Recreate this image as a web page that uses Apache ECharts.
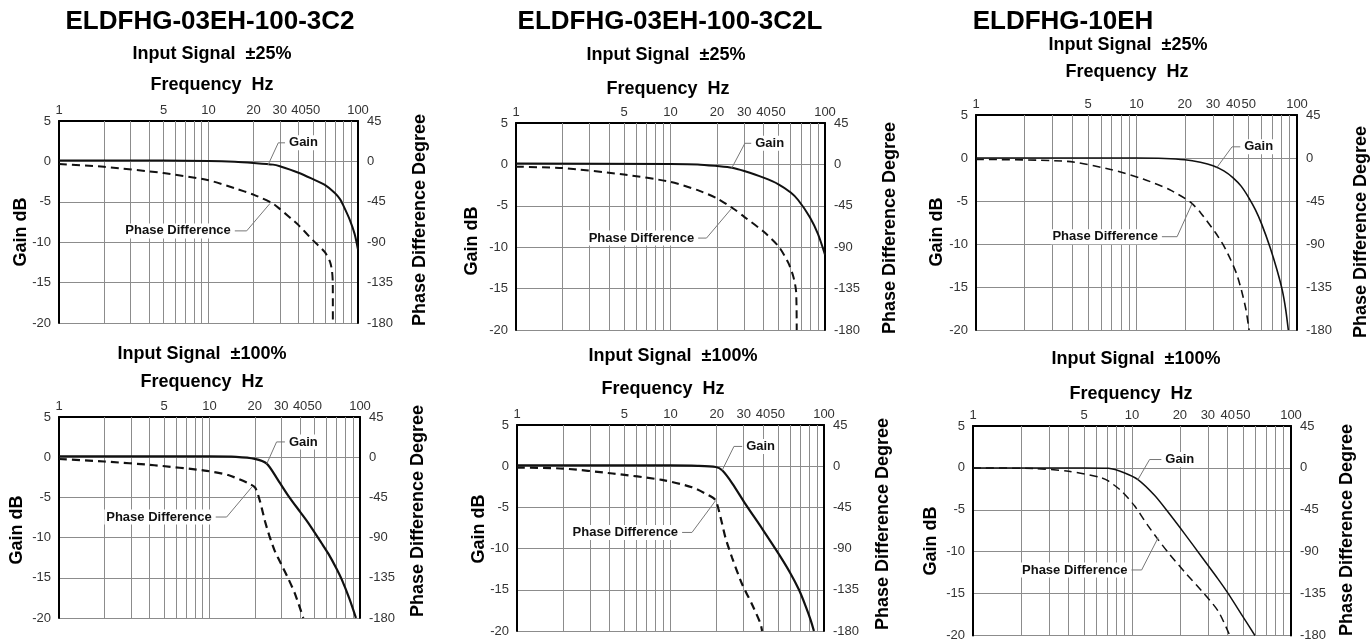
<!DOCTYPE html>
<html>
<head>
<meta charset="utf-8">
<script src="https://cdn.jsdelivr.net/npm/echarts@6/dist/echarts.min.js"></script>
<style>
html, body { margin: 0; padding: 0; background: #fff; }
#chart { width: 1371px; height: 642px; }
</style>
</head>
<body>
<div id="chart"></div>
<script>
// frequency grid lines and the labelled ones (Hz)
var gridHz = [1, 2, 3, 4, 5, 6, 7, 8, 9, 10, 20, 30, 40, 50, 60, 70, 80, 90, 100];
var labelHz = [1, 5, 10, 20, 30, 40, 50, 100];

// ELDFHG-03EH-100-3C2, input +-25%
var p1GainHz = [1, 5, 10, 15, 20, 27, 30, 40, 50, 60, 70, 76, 80, 88, 95, 100];
var p1GainDb = [0.1, 0.1, 0.05, -0.05, -0.2, -0.4, -0.6, -1.4, -2.2, -2.9, -3.9, -4.7, -5.5, -7.2, -9, -10.9];
var p1PhaseHz = [1, 2, 5, 10, 15, 20, 27, 30, 40, 50, 60, 65, 67, 67.8, 67.9];
var p1PhaseDeg = [-3, -6, -13, -21, -30, -37, -47, -53, -71, -88, -101, -112, -122, -135, -180];

// ELDFHG-03EH-100-3C2L, input +-25%
var p2GainHz = [1, 10, 15, 20, 25, 30, 40, 50, 60, 67, 80, 90, 100];
var p2GainDb = [0.1, 0.05, 0, -0.2, -0.4, -0.8, -1.6, -2.4, -3.4, -4.3, -6.4, -8.4, -10.9];
var p2PhaseHz = [1, 2, 5, 10, 15, 20, 26, 30, 40, 50, 57.9, 62.4, 65, 65.6];
var p2PhaseDeg = [-2.5, -4, -11, -19, -28, -37, -49, -57, -73, -89, -107, -122, -138, -180];

// ELDFHG-10EH, input +-25%
var p3GainHz = [1, 10, 15, 20, 25, 30, 35, 40, 45, 50, 55, 60, 68, 75, 81, 85, 88.3];
var p3GainDb = [0, 0, -0.05, -0.2, -0.5, -0.9, -1.5, -2.3, -3.3, -4.6, -6.0, -7.6, -10.4, -13, -15.4, -17.6, -20];
var p3PhaseHz = [1, 3.7, 6.9, 11, 16, 21.6, 25, 31, 35, 38.5, 42, 45, 48, 50.3];
var p3PhaseDeg = [-1.5, -3.5, -12, -22, -33, -46, -57, -78, -92, -106, -121, -138, -158, -180];

// ELDFHG-03EH-100-3C2, input +-100%
var p4GainHz = [1, 10, 15, 20, 24, 28, 33.4, 40, 45.4, 55.6, 61.6, 70, 75.6, 85, 94];
var p4GainDb = [0.1, 0.1, 0.05, -0.2, -0.8, -2.6, -4.8, -6.8, -8.2, -10.7, -12, -13.9, -15.2, -17.6, -20];
var p4PhaseHz = [1, 2, 4.3, 9.3, 13.3, 18, 20.1, 21.7, 23.4, 25, 27, 30, 33.4, 37, 42];
var p4PhaseDeg = [-2, -4.8, -9, -15, -20, -29, -34, -50, -72, -88, -104, -120, -136, -153, -180];

// ELDFHG-03EH-100-3C2L, input +-100%
var p5GainHz = [1, 10, 15, 19.7, 21.7, 25.3, 30.8, 39.6, 50.9, 60, 68.7, 76, 82, 86];
var p5GainDb = [0.1, 0.1, 0.05, -0.1, -0.5, -2.1, -4.6, -7.6, -10.7, -12.9, -15, -17, -18.7, -20];
var p5PhaseHz = [1, 2, 4.2, 8.8, 13.8, 18.7, 19.8, 21.2, 22.8, 25.2, 29.3, 34, 38.6, 39.5];
var p5PhaseDeg = [-1.5, -2.6, -8, -15, -23, -34, -38, -56, -78, -100, -129, -151, -172, -180];

// ELDFHG-10EH, input +-100%
var p6GainHz = [1, 5, 7.1, 9, 10.9, 13.9, 16.9, 21.5, 27.4, 34.9, 40.3, 48.9, 59.3];
var p6GainDb = [0, 0, -0.05, -0.6, -1.4, -3.3, -5.3, -7.9, -10.6, -13.3, -15.0, -17.5, -20];
var p6PhaseHz = [1, 2.4, 4, 6.4, 7.1, 8.6, 10.4, 12.6, 14.6, 16.9, 21.5, 27.4, 34.9, 41.2];
var p6PhaseDeg = [0, -0.7, -3.6, -10.5, -14, -25, -41, -62, -77, -91, -112, -132, -154, -180];

var FONT = '"Liberation Sans", Arial, sans-serif';

// layout of the six panels; notes are leader lines (curve point, elbow, text end) in Hz / dB
var panels = [
	{
		grid: { left: 59, top: 121, width: 299, height: 202 },
		gain: [p1GainHz, p1GainDb], phase: [p1PhaseHz, p1PhaseDeg], lw: 2,
		gainNote: [[25, -0.45], [29.3, 2.3], [32.5, 2.3]],
		phaseNote: [[25.8, -5.2], [18, -8.6], [15, -8.6]],
		title: [210, 22, 'ELDFHG-03EH-100-3C2'], sub: [212, 54, 'Input Signal  ±25%'],
		freq: [212, 85], gainName: [21, 232], phaseName: [420, 220]
	},
	{
		grid: { left: 516, top: 123, width: 309, height: 207 },
		gain: [p2GainHz, p2GainDb], phase: [p2PhaseHz, p2PhaseDeg], lw: 2,
		gainNote: [[24.9, -0.45], [30.3, 2.55], [33.3, 2.55]],
		phaseNote: [[24.9, -5.3], [17.1, -8.9], [15.1, -8.9]],
		title: [670, 22, 'ELDFHG-03EH-100-3C2L'], sub: [666, 55, 'Input Signal  ±25%'],
		freq: [668, 89], gainName: [472, 241], phaseName: [890, 228]
	},
	{
		grid: { left: 976, top: 115, width: 321, height: 215 },
		gain: [p3GainHz, p3GainDb], phase: [p3PhaseHz, p3PhaseDeg], lw: 1.6,
		gainNote: [[31.7, -1.1], [39.4, 1.3], [44.3, 1.3]],
		phaseNote: [[22.2, -5.3], [17.9, -9.15], [14.4, -9.15]],
		title: [1063, 22, 'ELDFHG-10EH'], sub: [1128, 45, 'Input Signal  ±25%'],
		freq: [1127, 72], gainName: [937, 232], phaseName: [1361, 232]
	},
	{
		grid: { left: 59, top: 417, width: 301, height: 201 },
		gain: [p4GainHz, p4GainDb], phase: [p4PhaseHz, p4PhaseDeg], lw: 2.2,
		gainNote: [[24, -0.83], [27.9, 1.9], [31.7, 1.9]],
		phaseNote: [[19.1, -3.72], [13, -7.44], [11, -7.44]],
		sub: [202, 354, 'Input Signal  ±100%'],
		freq: [202, 382], gainName: [17, 530], phaseName: [418, 511]
	},
	{
		grid: { left: 517, top: 425, width: 307, height: 206 },
		gain: [p5GainHz, p5GainDb], phase: [p5PhaseHz, p5PhaseDeg], lw: 2.2,
		gainNote: [[21.7, -0.5], [25.9, 2.4], [29.3, 2.4]],
		phaseNote: [[19.7, -4.16], [13.8, -8.04], [11.9, -8.04]],
		sub: [673, 356, 'Input Signal  ±100%'],
		freq: [663, 389], gainName: [479, 529], phaseName: [883, 524]
	},
	{
		grid: { left: 973, top: 426, width: 318, height: 211 },
		gain: [p6GainHz, p6GainDb], phase: [p6PhaseHz, p6PhaseDeg], lw: 1.5,
		gainNote: [[10.9, -1.4], [12.9, 1.0], [15.3, 1.0]],
		phaseNote: [[14.6, -8.33], [11.5, -12.18], [9.93, -12.18]],
		sub: [1136, 359, 'Input Signal  ±100%'],
		freq: [1131, 394], gainName: [931, 541], phaseName: [1347, 530]
	}
];

function zip(xs, ys) {
	return xs.map(function (x, i) { return [x, ys[i]]; });
}

function note(points, text, pos) {
	return points.map(function (p, i) {
		if (i < points.length - 1) return p;
		return {
			value: p,
			label: {
				show: true, position: pos, formatter: text, distance: 2,
				color: '#111', fontSize: 13, fontWeight: 'bold', fontFamily: FONT,
				backgroundColor: '#fff', padding: [1, 2]
			}
		};
	});
}

function txt(pos, text, size, rotate) {
	return {
		type: 'text', x: pos[0], y: pos[1], rotation: rotate ? Math.PI / 2 : 0, z: 10,
		style: {
			text: text, fill: '#000', fontSize: size, fontWeight: 'bold', fontFamily: FONT,
			align: 'center', verticalAlign: 'middle'
		}
	};
}

var option = { animation: false, grid: [], xAxis: [], yAxis: [], series: [], graphic: [] };

panels.forEach(function (p, i) {
	option.grid.push(p.grid);
	option.xAxis.push({
		type: 'log', logBase: 10, min: 1, max: 100, gridIndex: i, position: 'top',
		axisLine: { show: true, onZero: false, lineStyle: { color: '#000', width: 2 } },
		axisTick: { show: false }, axisLabel: { show: false }, splitLine: { show: false }
	});
	option.yAxis.push({
		type: 'value', gridIndex: i, min: -20, max: 5, interval: 5, position: 'left',
		axisLine: { show: true, onZero: false, lineStyle: { color: '#000', width: 2 } },
		axisTick: { show: false },
		axisLabel: { color: '#333', fontSize: 13, fontFamily: FONT, margin: 8 },
		splitLine: { show: true, lineStyle: { color: '#8c8c8c', width: 1 } }
	});
	option.yAxis.push({
		type: 'value', gridIndex: i, min: -180, max: 45, interval: 45, position: 'right',
		axisLine: { show: true, onZero: false, lineStyle: { color: '#000', width: 2 } },
		axisTick: { show: false },
		axisLabel: { color: '#333', fontSize: 13, fontFamily: FONT, margin: 9 },
		splitLine: { show: false }
	});

	option.series.push({
		type: 'line', xAxisIndex: i, yAxisIndex: 2 * i, z: 3,
		data: zip(p.gain[0], p.gain[1]), showSymbol: false, smooth: 0.25,
		lineStyle: { color: '#111', width: p.lw },
		markLine: {
			silent: true, z: 1, symbol: ['none', 'none'], animation: false,
			label: { show: false },
			lineStyle: { color: '#8c8c8c', width: 1, type: 'solid' },
			data: gridHz.map(function (f) {
				var item = { xAxis: f };
				if (labelHz.indexOf(f) >= 0) {
					item.label = {
						show: true, position: 'end', formatter: String(f), distance: 4,
						color: '#333', fontSize: 13, fontFamily: FONT
					};
				}
				if (f === 1 || f === 100) item.lineStyle = { color: '#000', width: 2, type: 'solid' };
				return item;
			})
		}
	});
	option.series.push({
		type: 'line', xAxisIndex: i, yAxisIndex: 2 * i + 1, z: 3,
		data: zip(p.phase[0], p.phase[1]), showSymbol: false, smooth: 0.25,
		lineStyle: { color: '#111', width: p.lw, type: [8, 5] }
	});
	option.series.push({
		type: 'line', xAxisIndex: i, yAxisIndex: 2 * i, z: 4,
		data: note(p.gainNote, 'Gain', 'right'),
		symbol: 'circle', symbolSize: 0, showSymbol: true, showAllSymbol: true,
		lineStyle: { color: '#777', width: 1 }, itemStyle: { color: '#777' }
	});
	option.series.push({
		type: 'line', xAxisIndex: i, yAxisIndex: 2 * i, z: 4,
		data: note(p.phaseNote, 'Phase Difference', 'left'),
		symbol: 'circle', symbolSize: 0, showSymbol: true, showAllSymbol: true,
		lineStyle: { color: '#777', width: 1 }, itemStyle: { color: '#777' }
	});

	if (p.title) option.graphic.push(txt(p.title, p.title[2], 26));
	option.graphic.push(txt(p.sub, p.sub[2], 18));
	option.graphic.push(txt(p.freq, 'Frequency  Hz', 18));
	option.graphic.push(txt(p.gainName, 'Gain dB', 18, true));
	option.graphic.push(txt(p.phaseName, 'Phase Difference Degree', 18, true));
});

var chart = echarts.init(document.getElementById('chart'));
chart.setOption(option);
</script>
</body>
</html>
